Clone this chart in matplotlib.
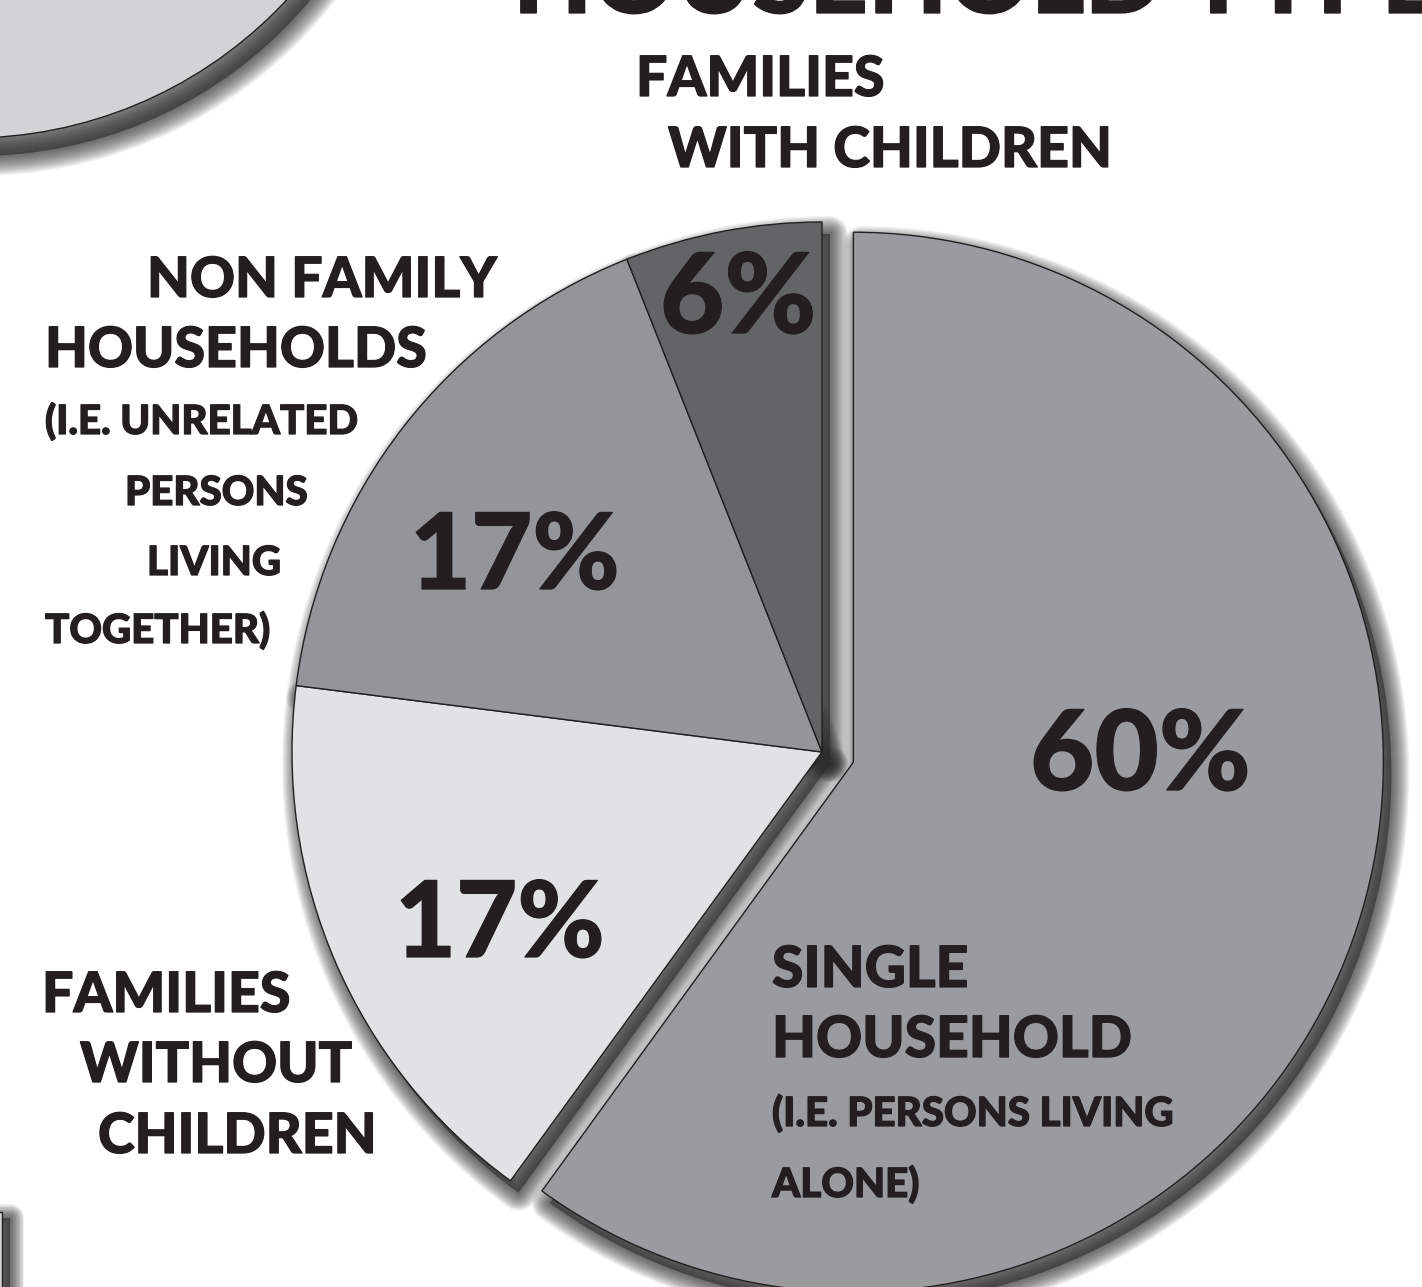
import matplotlib.pyplot as plt
import matplotlib.patheffects as pe
from matplotlib.patches import Wedge, Circle, Rectangle

W, H = 1422, 1287

# chart data
categories = ["Single household", "Families without children",
              "Non family households", "Families with children"]
shares = [60, 17, 17, 6]
colors = ["#9a9b9e", "#e1e2e4", "#939598", "#636466"]
explode = [33, 0, 0, 0]

title = "HOUSEHOLD TYPE"
label_lines = {
    "Families with children": ["FAMILIES", "WITH CHILDREN"],
    "Non family households": ["NON FAMILY", "HOUSEHOLDS", "(I.E. UNRELATED",
                              "PERSONS", "LIVING", "TOGETHER)"],
    "Families without children": ["FAMILIES", "WITHOUT", "CHILDREN"],
    "Single household": ["SINGLE", "HOUSEHOLD", "(I.E. PERSONS LIVING", "ALONE)"],
}

INK = "#231f20"
plt.rcParams['font.family'] = ['Lato', 'DejaVu Sans']


def Y(y):
    # image row -> data y (y axis points up)
    return H - y


def shadow(ax, make, dx, dy, blur=18, n=18, color="#2e2e2e"):
    # soft drop shadow: a filled copy plus a stack of fading strokes
    base = make(dx, dy)
    base.set(facecolor=color, edgecolor="none", alpha=0.6, zorder=1)
    ax.add_patch(base)
    for i in range(n):
        lw_px = 2 * blur * (i + 1) / n
        p = make(dx, dy)
        p.set(facecolor="none", edgecolor=color, linewidth=lw_px * 0.72,
              alpha=0.06, zorder=1, joinstyle="round")
        ax.add_patch(p)


fig = plt.figure(figsize=(W / 100, H / 100), dpi=100)
ax = fig.add_axes([0, 0, 1, 1])

# decorative circle top-left and box bottom-left
cc, cr = (-30, Y(-294)), 432
shadow(ax, lambda dx, dy: Circle((cc[0] + dx, cc[1] + dy), cr), 8, -18, blur=20)
ax.add_patch(Circle(cc, cr, facecolor="#d1d3d4", edgecolor=INK, linewidth=1, zorder=3))
shadow(ax, lambda dx, dy: Rectangle((-30 + dx, Y(1330) + dy), 32, 118), 8, -6, blur=14)
ax.add_patch(Rectangle((-30, Y(1330)), 32, 118, facecolor="#d1d3d4",
                       edgecolor=INK, linewidth=1, zorder=3))

wedges, _ = ax.pie(shares, colors=colors, explode=explode, startangle=90,
                   counterclock=False, center=(822, Y(752)), radius=530,
                   wedgeprops=dict(edgecolor=INK, linewidth=1.0, zorder=3))

for w in wedges:
    c, r, t1, t2 = w.center, w.r, w.theta1, w.theta2
    shadow(ax, lambda dx, dy, c=c, r=r, t1=t1, t2=t2:
           Wedge((c[0] + dx, c[1] + dy), r, t1, t2), 8, -12)

ax.set_xlim(0, W)
ax.set_ylim(0, H)
ax.set_aspect("auto")
ax.axis("off")

heavy = [pe.withStroke(linewidth=0.9, foreground=INK)]
font = dict(color=INK, fontweight="black", ha="left", va="baseline",
            path_effects=heavy)

ax.text(513, Y(13), title, fontsize=74, clip_on=False, **font)

# category labels: (x, baseline row, size) per line
layout = {
    "Families with children": [(636, 96, 40), (668, 167, 40)],
    "Non family households": [(147, 297, 40), (45, 367, 40), (45, 434, 29),
                              (125, 505, 29), (147, 575, 29), (45, 643, 29)],
    "Families without children": [(42, 1012, 40), (80, 1082, 40), (98, 1153, 40)],
    "Single household": [(772, 987, 41), (772, 1057, 41), (772, 1126, 29),
                         (772, 1197, 29)],
}
for cat, lines in label_lines.items():
    for txt, (x, y, s) in zip(lines, layout[cat]):
        ax.text(x, Y(y), txt, fontsize=s, zorder=5, **font)

# percentage labels: (x, baseline row, size)
pct_pos = {
    "Single household": (1030, 790, 80),
    "Families without children": (395, 957, 76),
    "Non family households": (410, 589, 76),
    "Families with children": (660, 333, 80),
}
for cat, v in zip(categories, shares):
    x, y, s = pct_pos[cat]
    ax.text(x, Y(y), f"{v}%", fontsize=s, zorder=5, **font)

fig.savefig("out.png", dpi=100)
